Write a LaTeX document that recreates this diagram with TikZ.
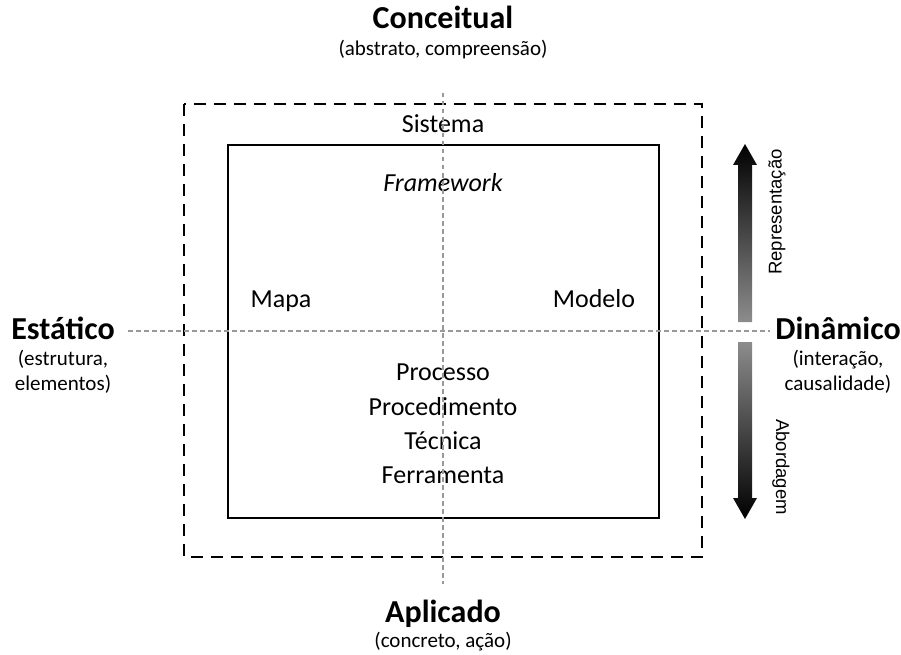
\documentclass[tikz,border=0pt]{standalone}
\usepackage{fontspec}
\setmainfont{Carlito}
\newfontfamily\arrowfont{Liberation Sans}

\begin{document}
\begin{tikzpicture}[x=1pt,y=-1pt,
 title/.style={font=\fontsize{32}{36}\selectfont\bfseries, anchor=base, inner sep=0pt},
 sub/.style={font=\fontsize{21}{25}\selectfont, anchor=base, inner sep=0pt},
 item/.style={font=\fontsize{26}{30}\selectfont, anchor=base, inner sep=0pt},
 side/.style={font=\arrowfont\fontsize{18.5}{22}\selectfont, inner sep=0pt},
 axis/.style={draw=black!40, line width=1.2pt, dash pattern=on 4.5pt off 3.5pt},
 ]
 \useasboundingbox (0,0) rectangle (901,655);

 % boxes
 \draw[line width=2.5pt, dash pattern=on 12pt off 8pt] (184,104) rectangle (702,557);
 \draw[line width=2.2pt] (228,145) rectangle (659,518);

 % top and bottom
 \node[title] (con) at (443,29) {Conceitual};
 \node[sub] (conx) at (443,56) {(abstrato, compreensão)};
 \node[title] (apl) at (443,622) {Aplicado};
 \node[sub] (aplx) at (443,647) {(concreto, ação)};

 % left and right
 \node[title] (est) at (63,339) {Estático};
 \node[sub] (esta) at (63,365) {(estrutura,};
 \node[sub] (estb) at (63,390) {elementos)};
 \node[title] (din) at (838,339) {Dinâmico};
 \node[sub] (dina) at (838,365) {(interação,};
 \node[sub] (dinb) at (838,390) {causalidade)};

 % inside
 \node[item] (sis) at (443,133) {Sistema};
 \node[item] (fra) at (443,191) {\itshape Framework};
 \node[item] (map) at (281,307) {Mapa};
 \node[item] (mod) at (594,307) {Modelo};
 \node[item] (pro) at (443,380) {Processo};
 \node[item] (prd) at (443,415) {Procedimento};
 \node[item] (tec) at (443,449) {Técnica};
 \node[item] (fer) at (443,483) {Ferramenta};

 % axes
 \draw[axis] (443,93) -- (443,584);
 \draw[axis] (128,331) -- (770,331);

 % arrows
 \shade[top color=black, bottom color=black!45]
   (738,322) -- (738,165) -- (733,165) -- (745,144) -- (757,165)
   -- (752,165) -- (752,322) -- cycle;
 \shade[top color=black!45, bottom color=black]
   (738,342) -- (738,498) -- (733,498) -- (745,519) -- (757,498)
   -- (752,498) -- (752,342) -- cycle;
 \node[side, rotate=90] (rep) at (777,212) {Representação};
 \node[side, rotate=-90] (abo) at (781,467) {Abordagem};
\end{tikzpicture}
\end{document}
